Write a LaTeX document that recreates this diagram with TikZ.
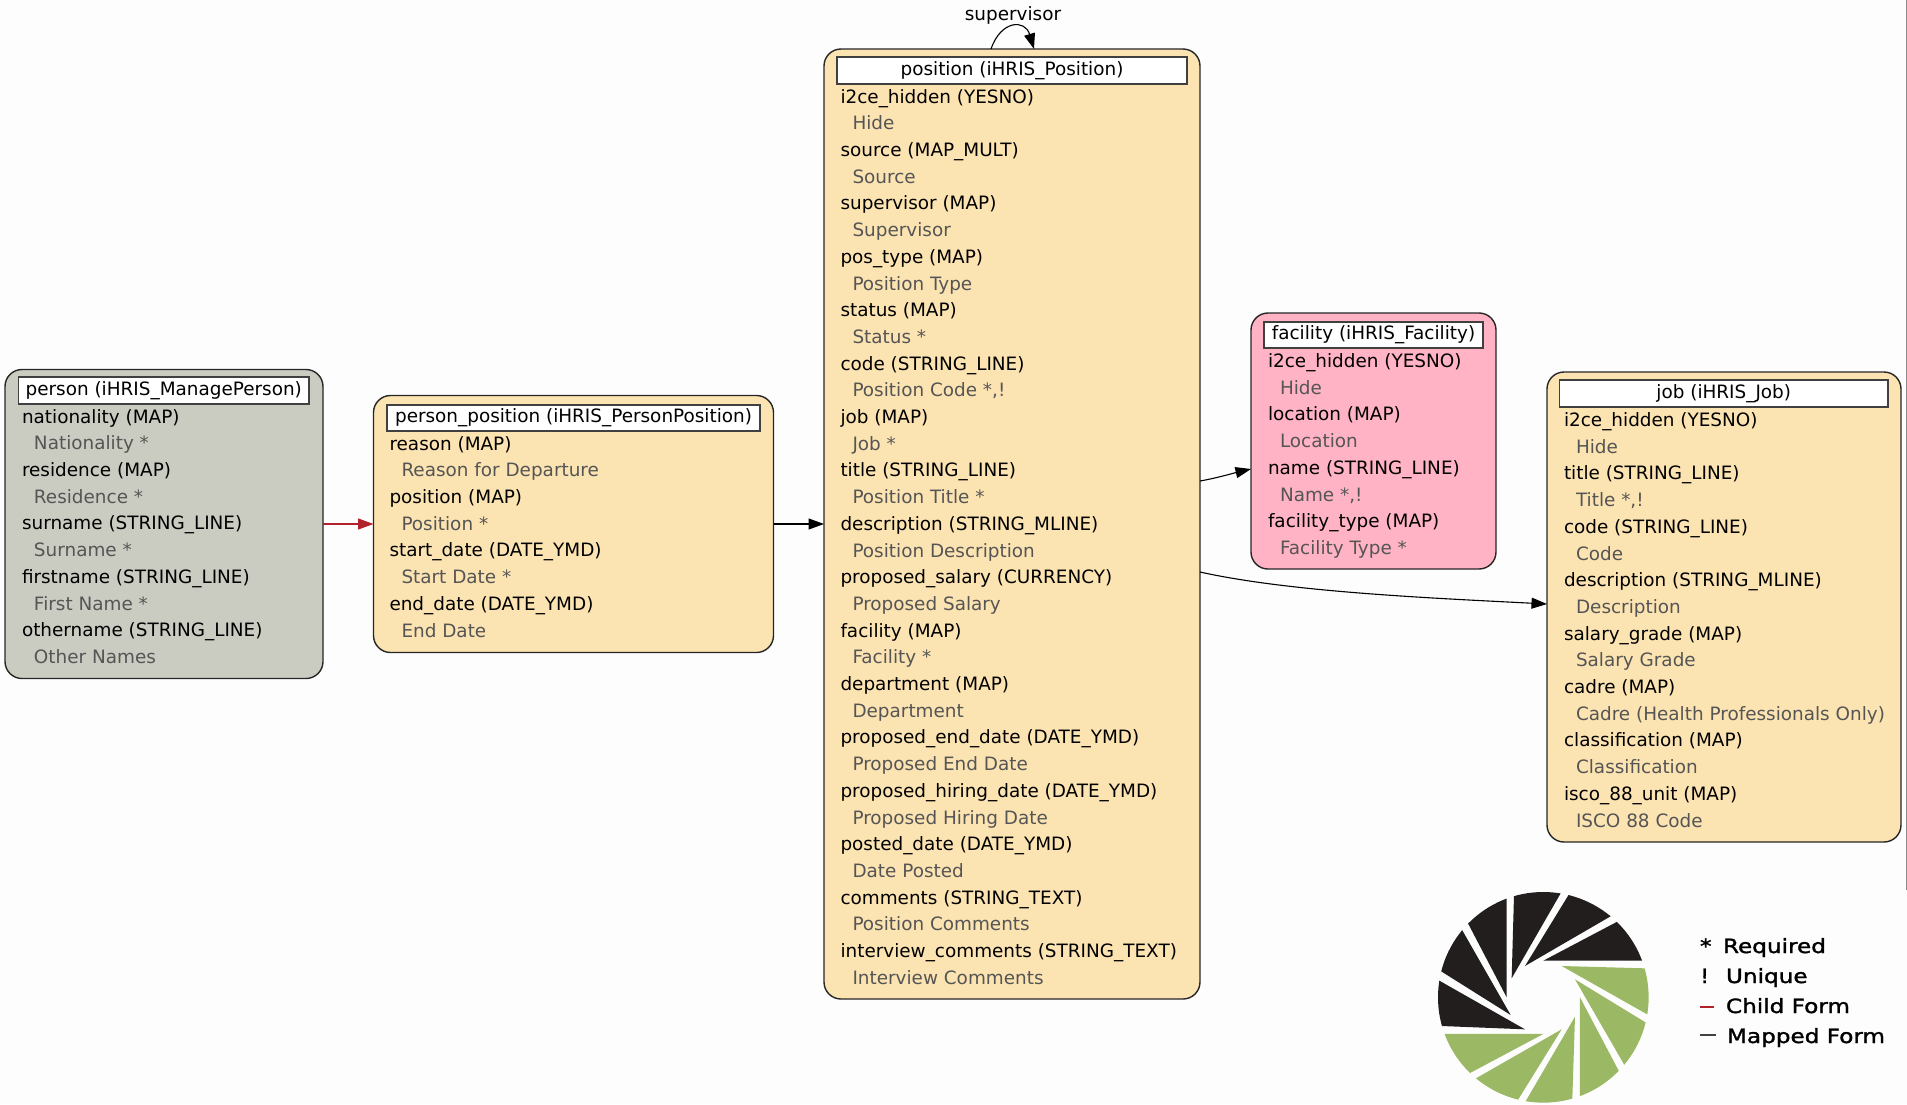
\documentclass[tikz,border=0pt]{standalone}
\usepackage{fontspec}
\setmainfont{DejaVu Sans}
\newfontfamily\legendfont[FakeBold=1.6,FakeStretch=1.18]{DejaVu Sans}
\usetikzlibrary{arrows.meta,calc}
\definecolor{pagebg}{HTML}{FDFDFD}
\definecolor{greyform}{HTML}{CBCCC1}
\definecolor{creamform}{HTML}{FCE4B2}
\definecolor{pinkform}{HTML}{FFB3C4}
\definecolor{sublabel}{HTML}{555555}
\definecolor{childred}{HTML}{B2222C}
\definecolor{logodark}{HTML}{211E1D}
\definecolor{logogreen}{HTML}{9BB965}
\tikzset{
  x=1pt,y=-1pt,
  txt/.style={inner sep=0pt,outer sep=0pt,font=\fontsize{18.4pt}{21pt}\selectfont},
  formbox/.style={draw=black!85,line width=1.4pt,rounded corners=17pt,inner sep=0pt,outer sep=0pt,anchor=north west},
  titlebox/.style={draw=black!75,line width=1.4pt,fill=white,inner sep=0pt,outer sep=0pt,anchor=north west},
  mainline/.style={txt,anchor=base west,text=black},
  subline/.style={txt,anchor=base west,text=sublabel},
  mapped/.style={draw=black,line width=1.1pt,-{Triangle[length=15.5pt,width=11pt]}},
  child/.style={draw=childred,line width=1.1pt,-{Triangle[length=15.5pt,width=11pt]}},
  legendtxt/.style={inner sep=0pt,outer sep=0pt,anchor=base west,font=\fontsize{19.6pt}{22pt}\legendfont},
}
% name, left, top, right, bottom, fill
\newcommand\formbox[6]{\node[formbox,fill=#6,minimum width=#4pt-#2pt,minimum height=#5pt-#3pt] (#1) at (#2,#3) {};}
% name, left, top, right, bottom, baseline, text
\newcommand\formtitle[7]{%
  \node[titlebox,minimum width=#4pt-#2pt,minimum height=#5pt-#3pt] (#1) at (#2,#3) {};
  \node[txt,anchor=base] (#1t) at ($(#1.north)+(0,#6-#3)$) {#7};}
% name, x main, x sub, first baseline, list
\newcommand\formlines[5]{%
  \foreach \m/\s [count=\c from 0] in {#5} {
    \node[mainline] (#1m\c) at (#2,{#4+53.4*\c}) {\m};
    \node[subline] (#1s\c) at (#3,{#4+26.8+53.4*\c}) {\s};
  }}
\newcommand\blade[4]{%
  \fill[#1] (#2) -- ($(#2)!1.6!(#3)$) -- ($(logoc)!1.8!($(#3)!.5!(#4)$)$) -- ($(#2)!1.6!(#4)$) -- cycle;}
\begin{document}
\begin{tikzpicture}
\useasboundingbox (0,0) rectangle (1907,1104);
\fill[pagebg] (0,0) rectangle (1907,1104);
\draw[black!45,line width=1pt] (1906.5,0) -- (1906.5,890);

\formbox{person}{5}{369.5}{323}{678.5}{greyform}
\formbox{pp}{373.5}{395.5}{773.5}{652.5}{creamform}
\formbox{position}{824}{49}{1200}{999}{creamform}
\formbox{facility}{1251}{313}{1496}{569}{pinkform}
\formbox{job}{1547}{372}{1901}{842}{creamform}

\formtitle{persont}{18.5}{377}{309}{404}{395}{person (iHRIS\_ManagePerson)}
\formtitle{ppt}{387}{405}{760}{431}{422}{person\_position (iHRIS\_PersonPosition)}
\formtitle{positiont}{837}{57}{1187}{84}{75}{position (iHRIS\_Position)}
\formtitle{facilityt}{1264}{322}{1483}{348}{339}{facility (iHRIS\_Facility)}
\formtitle{jobt}{1559.5}{380}{1888}{407}{398}{job (iHRIS\_Job)}

\formlines{person}{22}{34}{423}{nationality (MAP)/Nationality *,residence (MAP)/Residence *,surname (STRING\_LINE)/Surname *,firstname (STRING\_LINE)/First Name *,othername (STRING\_LINE)/Other Names}
\formlines{pp}{389.5}{401.5}{450}{reason (MAP)/Reason for Departure,position (MAP)/Position *,start\_date (DATE\_YMD)/Start Date *,end\_date (DATE\_YMD)/End Date}
\formlines{position}{840.5}{852.5}{103}{i2ce\_hidden (YESNO)/Hide,source (MAP\_MULT)/Source,supervisor (MAP)/Supervisor,pos\_type (MAP)/Position Type,status (MAP)/Status *,code (STRING\_LINE)/{Position Code *,!},job (MAP)/Job *,title (STRING\_LINE)/Position Title *,description (STRING\_MLINE)/Position Description,proposed\_salary (CURRENCY)/Proposed Salary,facility (MAP)/Facility *,department (MAP)/Department,proposed\_end\_date (DATE\_YMD)/Proposed End Date,proposed\_hiring\_date (DATE\_YMD)/Proposed Hiring Date,posted\_date (DATE\_YMD)/Date Posted,comments (STRING\_TEXT)/Position Comments,interview\_comments (STRING\_TEXT)/Interview Comments}
\formlines{facility}{1268}{1280}{367.5}{i2ce\_hidden (YESNO)/Hide,location (MAP)/Location,name (STRING\_LINE)/{Name *,!},facility\_type (MAP)/Facility Type *}
\formlines{job}{1564}{1576}{426.5}{i2ce\_hidden (YESNO)/Hide,title (STRING\_LINE)/{Title *,!},code (STRING\_LINE)/Code,description (STRING\_MLINE)/Description,salary\_grade (MAP)/Salary Grade,cadre (MAP)/Cadre (Health Professionals Only),classification (MAP)/Classification,isco\_88\_unit (MAP)/ISCO 88 Code}

% connectors
\coordinate (posToFac) at (1200,481);
\coordinate (facIn) at (1251,469);
\coordinate (posToJob) at (1200,572);
\coordinate (jobIn) at (1547,604);
\coordinate (loopOut) at (991,49);
\coordinate (loopIn) at (1034,49);
\draw[child] (person.east) -- (pp.west);
\draw[mapped] (pp.east) -- (position.west);
\draw[mapped] (posToFac) .. controls (1217,478) and (1234,473) .. (facIn);
\draw[mapped] (posToJob) .. controls (1290,592) and (1430,598) .. (jobIn);
\draw[mapped] (loopOut) .. controls (1001,20) and (1025,19) .. (loopIn);
\node[txt,anchor=base] (suplabel) at (1013,20) {supervisor};

% logo
\begin{scope}[shift={(1400,860)},x=0.3333pt,y=-0.3333pt]
  \coordinate (logoc) at (430,412);
  \clip (logoc) circle[radius=316];
  \blade{logodark}{430,302}{725,302}{648,187}
  \blade{logodark}{375,318}{630,170}{505,106}
  \blade{logodark}{335,355}{482,100}{342,107}
  \blade{logodark}{320,412}{320,118}{205,192}
  \blade{logodark}{332,465}{188,213}{125,335}
  \blade{logodark}{375,508}{118,362}{124,498}
  \blade{logogreen}{485,318}{735,325}{745,465}
  \blade{logogreen}{525,358}{738,488}{672,613}
  \blade{logogreen}{540,412}{655,630}{540,708}
  \blade{logogreen}{525,470}{517,717}{378,722}
  \blade{logogreen}{485,508}{355,718}{228,655}
  \blade{logogreen}{430,522}{212,638}{133,522}
\end{scope}

% legend
\node[legendtxt] (lgstar) at (1700,953) {*};
\node[legendtxt] (lgreq) at (1723,953) {Required};
\node[legendtxt] (lgbang) at (1700,983) {!};
\node[legendtxt] (lguni) at (1726,983) {Unique};
\node[legendtxt] (lgchild) at (1726,1013) {Child Form};
\node[legendtxt] (lgmap) at (1727,1043) {Mapped Form};
\coordinate (lgrA) at (1699.5,1007);
\coordinate (lgrB) at (1714,1007);
\coordinate (lgdA) at (1699.5,1035);
\coordinate (lgdB) at (1716,1035);
\draw[childred,line width=1.1pt] (lgrA) -- (lgrB);
\draw[black!75,line width=1.3pt] (lgdA) -- (lgdB);
\end{tikzpicture}
\end{document}
